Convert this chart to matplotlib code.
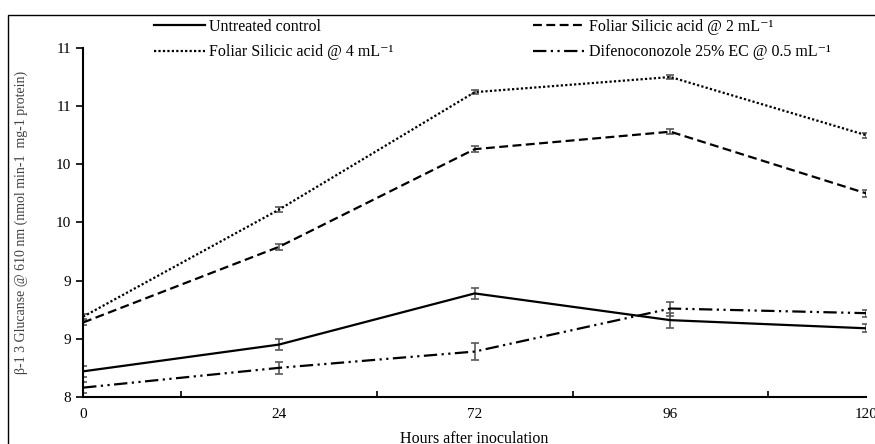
import matplotlib.pyplot as plt
from matplotlib.patches import Rectangle

plt.rcParams['font.family'] = ['Liberation Serif', 'DejaVu Serif']

hours = ['0', '24', '72', '96', '120']
untreated = [8.22, 8.45, 8.89, 8.66, 8.59]
untreated_err = [0.05, 0.05, 0.05, 0.065, 0.035]
silicic2 = [8.64, 9.29, 10.13, 10.28, 9.75]
silicic2_err = [0.02, 0.025, 0.025, 0.02, 0.03]
silicic4 = [8.69, 9.61, 10.62, 10.75, 10.25]
silicic4_err = [0.02, 0.02, 0.015, 0.02, 0.02]
difeno = [8.08, 8.25, 8.39, 8.76, 8.72]
difeno_err = [0.05, 0.05, 0.07, 0.06, 0.03]
yticks = [8, 8.5, 9, 9.5, 10, 10.5, 11]
ytick_labels = ['8', '9', '9', '10', '10', '11', '11']

fig = plt.figure(figsize=(8.75, 4.44), dpi=100)
ax = fig.add_axes([0.095, 0.106, 0.895, 0.786])
x = range(len(hours))
ecol = '#595959'

series = [
    ('Untreated control', untreated, untreated_err, '-'),
    ('Foliar Silicic acid @ 4 mL\u207b\u00b9', silicic4, silicic4_err, (0, (1, 1))),
    ('Foliar Silicic acid @ 2 mL\u207b\u00b9', silicic2, silicic2_err, (0, (4, 2))),
    ('Difenoconozole 25% EC @ 0.5 mL\u207b\u00b9', difeno, difeno_err, (0, (6, 2, 1, 2, 1, 2))),
]
handles = []
for name, vals, err, ls in series:
    ax.errorbar(x, vals, yerr=err, fmt='none', ecolor=ecol, elinewidth=1.2, capsize=3, capthick=1.2, zorder=2)
    h, = ax.plot(x, vals, color='black', linestyle=ls, lw=1.6, label=name, zorder=3)
    handles.append(h)

ax.set_xlim(0, 4)
ax.set_ylim(8, 11)
ax.set_xticks(list(x))
ax.set_xticklabels(hours)
ax.set_xticks([0.5, 1.5, 2.5, 3.5], minor=True)
ax.tick_params(axis='x', which='major', length=0, labelsize=11, pad=8)
ax.tick_params(axis='x', which='minor', length=4, direction='in', width=1.2)
ax.set_yticks(yticks)
ax.set_yticklabels(ytick_labels)
ax.tick_params(axis='y', length=5, width=1.2, labelsize=11)
for s in ['top', 'right']:
    ax.spines[s].set_visible(False)
for s in ['left', 'bottom']:
    ax.spines[s].set_linewidth(1.5)

ax.set_xlabel('Hours after inoculation', fontsize=11.5, labelpad=7)
ax.set_ylabel('\u03b2-1 3 Glucanse @ 610 nm (nmol min-1  mg-1 protein)', fontsize=10, color='#404040', labelpad=20)

fig.legend(handles=handles, ncol=2, loc='upper left', bbox_to_anchor=(0.159, 0.99),
           frameon=False, fontsize=11.5, handlelength=3.2, handletextpad=0.3,
           columnspacing=8.7, labelspacing=0.6)

fig.patches.append(Rectangle((8 / 875, -0.1), 1.2, (444 - 15) / 444 + 0.1, transform=fig.transFigure,
                             fill=False, edgecolor='black', lw=1, figure=fig))

fig.savefig('out.png', dpi=100)
